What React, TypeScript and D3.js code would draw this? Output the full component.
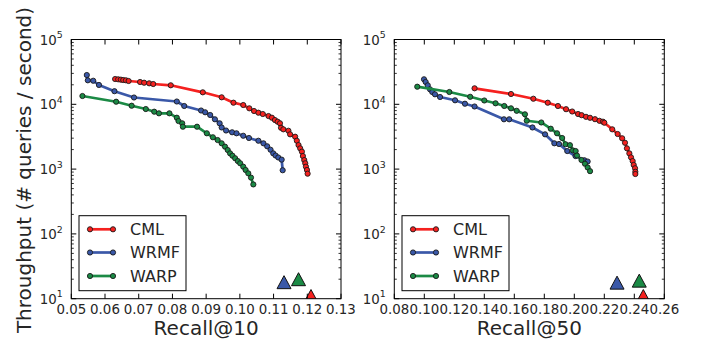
import React from "react";
import * as d3 from "d3";

// ---------- data ----------
// Left panel: Recall@10
const cml10X = [0.0630, 0.0639, 0.0647, 0.0654, 0.0662, 0.0670, 0.0704, 0.0716, 0.0731, 0.0743, 0.0795, 0.0890, 0.0946, 0.0981, 0.1010, 0.1028, 0.1042, 0.1055, 0.1068, 0.1085, 0.1095, 0.1104, 0.1112, 0.1119, 0.1122, 0.1129, 0.1144, 0.1149, 0.1164, 0.1169, 0.1174, 0.1179, 0.1184, 0.1187, 0.1191, 0.1194, 0.1196, 0.1199, 0.1201];
const cml10Y = [24550, 24300, 24000, 23700, 23450, 22900, 22100, 21530, 21080, 20560, 19650, 15310, 12820, 10590, 9750, 8670, 7880, 7420, 7080, 6590, 6210, 5720, 5390, 5090, 4350, 4110, 3910, 3440, 3160, 2740, 2350, 2090, 1860, 1590, 1380, 1230, 1090, 970, 850];

const wrmf10X = [0.0546, 0.0549, 0.0565, 0.0582, 0.0628, 0.0686, 0.0813, 0.0835, 0.0885, 0.0897, 0.0912, 0.0926, 0.0940, 0.0946, 0.0959, 0.0977, 0.0990, 0.1010, 0.1027, 0.1055, 0.1070, 0.1081, 0.1091, 0.1099, 0.1106, 0.1114, 0.1124, 0.1127];
const wrmf10Y = [28300, 23450, 23100, 19880, 15930, 12730, 11040, 9420, 8020, 7530, 6840, 5870, 5090, 4390, 3940, 3700, 3570, 3270, 3020, 2740, 2500, 2250, 1990, 1750, 1620, 1510, 1400, 960];

const warp10X = [0.0533, 0.0633, 0.0679, 0.0721, 0.0746, 0.0760, 0.0791, 0.0813, 0.0818, 0.0829, 0.0831, 0.0873, 0.0902, 0.0920, 0.0934, 0.0946, 0.0956, 0.0964, 0.0971, 0.0978, 0.0986, 0.0994, 0.1001, 0.1010, 0.1017, 0.1025, 0.1033, 0.1040];
const warp10Y = [13430, 10960, 9510, 8450, 7690, 7260, 7260, 6210, 5520, 5090, 4510, 4510, 3570, 3100, 2810, 2500, 2220, 1970, 1750, 1610, 1470, 1330, 1230, 1090, 970, 860, 740, 580];

// single-point (triangle) baselines, Recall@10
const tri10X = [0.1211, 0.1131, 0.1174]; // CML, WRMF, WARP
const tri10Y = [11, 18, 20];

// Right panel: Recall@50
const cml50X = [0.1335, 0.1578, 0.1727, 0.1823, 0.1891, 0.1945, 0.1986, 0.2025, 0.2049, 0.2078, 0.2105, 0.2138, 0.2168, 0.2191, 0.2200, 0.2253, 0.2289, 0.2319, 0.2338, 0.2351, 0.2367, 0.2378, 0.2389, 0.2396, 0.2405, 0.2407, 0.2407];
const cml50Y = [17660, 14420, 12190, 10580, 9410, 8400, 7740, 7080, 6790, 6410, 6190, 5890, 5560, 5390, 5200, 4110, 3480, 2990, 2550, 2090, 1750, 1520, 1330, 1160, 1030, 910, 840];

const wrmf50X = [0.0998, 0.1009, 0.1023, 0.1038, 0.1053, 0.1071, 0.1105, 0.1205, 0.1271, 0.1335, 0.1531, 0.1566, 0.1721, 0.1805, 0.1867, 0.1898, 0.1953, 0.2008, 0.2067, 0.2089];
const wrmf50Y = [24320, 22090, 19630, 17030, 15490, 14270, 12970, 11530, 10210, 9250, 5870, 5870, 4390, 3440, 2500, 2440, 1900, 1590, 1370, 1310];

const warp50X = [0.0953, 0.1167, 0.1306, 0.1400, 0.1475, 0.1533, 0.1578, 0.1616, 0.1671, 0.1683, 0.1780, 0.1843, 0.1885, 0.1919, 0.1941, 0.1971, 0.1991, 0.2009, 0.2018, 0.2048, 0.2071, 0.2089, 0.2105];
const warp50Y = [18690, 15490, 13060, 11450, 10360, 9420, 8670, 7940, 7010, 5580, 5240, 4200, 3570, 3020, 2420, 2340, 1940, 1900, 1620, 1380, 1210, 1060, 930];

const tri50X = [0.2460, 0.2285, 0.2433];
const tri50Y = [11, 17.7, 19];

const seriesNames = ["CML", "WRMF", "WARP"];
const seriesColors = ["#f5211f", "#3a58a8", "#1b8a45"];

const xTicks10 = [0.05, 0.06, 0.07, 0.08, 0.09, 0.10, 0.11, 0.12, 0.13];
const xTicks50 = [0.08, 0.10, 0.12, 0.14, 0.16, 0.18, 0.20, 0.22, 0.24, 0.26];
const yTicks = [10, 100, 1000, 10000, 100000];

const FONT = "'DejaVu Sans', 'Bitstream Vera Sans', sans-serif";
const TXT = "#262626";

// ---------- layout ----------
const TOP = 39.5;
const BOTTOM = 298.7;

type PanelProps = {
  id: string;
  x0: number;
  x1: number;
  domain: [number, number];
  ticks: number[];
  series: { xs: number[]; ys: number[] }[];
  triX: number[];
  triY: number[];
  title: string;
};

function Panel({ id, x0, x1, domain, ticks, series, triX, triY, title }: PanelProps) {
  const x = d3.scaleLinear().domain(domain).range([x0, x1]);
  const y = d3.scaleLog().domain([10, 1e5]).range([BOTTOM, TOP]);
  const line = d3
    .line<[number, number]>()
    .x((d) => x(d[0]))
    .y((d) => y(d[1]));

  const minor: number[] = [];
  for (let e = 1; e < 5; e++) for (let m = 2; m <= 9; m++) minor.push(m * Math.pow(10, e));

  const legX = x0 + 7.7;
  const legY = 215.7;
  const rowY = [229.3, 252.5, 276];

  return (
    <g>
      <defs>
        <clipPath id={id}>
          <rect x={x0} y={TOP} width={x1 - x0} height={BOTTOM - TOP} />
        </clipPath>
      </defs>
      <rect x={x0} y={TOP} width={x1 - x0} height={BOTTOM - TOP} fill="#fff" />
      <g clipPath={`url(#${id})`}>
        {series.map((s, i) => {
          const pts = s.xs.map((v, k) => [v, s.ys[k]] as [number, number]);
          return (
            <g key={i}>
              <path d={line(pts) || ""} fill="none" stroke={seriesColors[i]} strokeWidth={2.7} strokeLinejoin="round" />
              {pts.map((p, k) => (
                <circle key={k} cx={x(p[0])} cy={y(p[1])} r={2.6} fill={seriesColors[i]} stroke="#1a1a1a" strokeWidth={0.9} />
              ))}
            </g>
          );
        })}
        {triX.map((v, i) => {
          const cx = x(v);
          const cy = y(triY[i]);
          return (
            <path
              key={i}
              d={`M${cx},${cy - 6.5}L${cx + 7},${cy + 6.5}L${cx - 7},${cy + 6.5}Z`}
              fill={seriesColors[i]}
              stroke="#111"
              strokeWidth={1}
            />
          );
        })}
      </g>
      {/* ticks */}
      {ticks.map((t, i) => (
        <g key={"xt" + i}>
          <line x1={x(t)} x2={x(t)} y1={BOTTOM} y2={BOTTOM - 5} stroke="#000" strokeWidth={1} />
          <line x1={x(t)} x2={x(t)} y1={TOP} y2={TOP + 5} stroke="#000" strokeWidth={1} />
          <text x={x(t)} y={313.5} textAnchor="middle" fontSize={13.4} fontFamily={FONT} fill={TXT}>
            {t.toFixed(2)}
          </text>
        </g>
      ))}
      {yTicks.map((t, i) => (
        <g key={"yt" + i}>
          <line x1={x0} x2={x0 + 5} y1={y(t)} y2={y(t)} stroke="#000" strokeWidth={1} />
          <line x1={x1} x2={x1 - 5} y1={y(t)} y2={y(t)} stroke="#000" strokeWidth={1} />
          <text x={x0 - 8.5} y={y(t) + 5} textAnchor="end" fontSize={13.4} fontFamily={FONT} fill={TXT}>
            <tspan>10</tspan>
            <tspan fontSize={9.4} dy={-6.3}>{Math.round(Math.log10(t))}</tspan>
          </text>
        </g>
      ))}
      {minor.map((t, i) => (
        <g key={"ym" + i}>
          <line x1={x0} x2={x0 + 2.5} y1={y(t)} y2={y(t)} stroke="#000" strokeWidth={0.8} />
          <line x1={x1} x2={x1 - 2.5} y1={y(t)} y2={y(t)} stroke="#000" strokeWidth={0.8} />
        </g>
      ))}
      <rect x={x0} y={TOP} width={x1 - x0} height={BOTTOM - TOP} fill="none" stroke="#000" strokeWidth={1} />
      {/* legend */}
      <rect x={legX} y={legY} width={107} height={75} fill="#fff" stroke="#000" strokeWidth={1} />
      {seriesNames.map((n, i) => (
        <g key={"lg" + i}>
          <line x1={legX + 11} x2={legX + 34} y1={rowY[i]} y2={rowY[i]} stroke={seriesColors[i]} strokeWidth={2.7} />
          <circle cx={legX + 11} cy={rowY[i]} r={2.6} fill={seriesColors[i]} stroke="#1a1a1a" strokeWidth={0.9} />
          <circle cx={legX + 34} cy={rowY[i]} r={2.6} fill={seriesColors[i]} stroke="#1a1a1a" strokeWidth={0.9} />
          <text x={legX + 51} y={rowY[i] + 5.8} fontSize={16} fontFamily={FONT} fill={TXT}>
            {n}
          </text>
        </g>
      ))}
      <text x={(x0 + x1) / 2} y={335} textAnchor="middle" fontSize={20} fontFamily={FONT} fill={TXT}>
        {title}
      </text>
    </g>
  );
}

export default function App() {
  return (
    <svg
      width={702}
      height={341}
      style={{ position: "absolute", left: 0, top: 0, background: "#fff" }}
    >
      <rect width={702} height={341} fill="#fff" />
      <text
        transform={`translate(31,170) rotate(-90)`}
        textAnchor="middle"
        fontSize={20}
        fontFamily={FONT}
        fill={TXT}
      >
        Throughput (# queries / second)
      </text>
      <Panel
        id="clipL"
        x0={71.3}
        x1={341}
        domain={[0.05, 0.13]}
        ticks={xTicks10}
        series={[
          { xs: cml10X, ys: cml10Y },
          { xs: wrmf10X, ys: wrmf10Y },
          { xs: warp10X, ys: warp10Y },
        ]}
        triX={tri10X}
        triY={tri10Y}
        title="Recall@10"
      />
      <Panel
        id="clipR"
        x0={394.3}
        x1={664.3}
        domain={[0.08, 0.26]}
        ticks={xTicks50}
        series={[
          { xs: cml50X, ys: cml50Y },
          { xs: wrmf50X, ys: wrmf50Y },
          { xs: warp50X, ys: warp50Y },
        ]}
        triX={tri50X}
        triY={tri50Y}
        title="Recall@50"
      />
    </svg>
  );
}
